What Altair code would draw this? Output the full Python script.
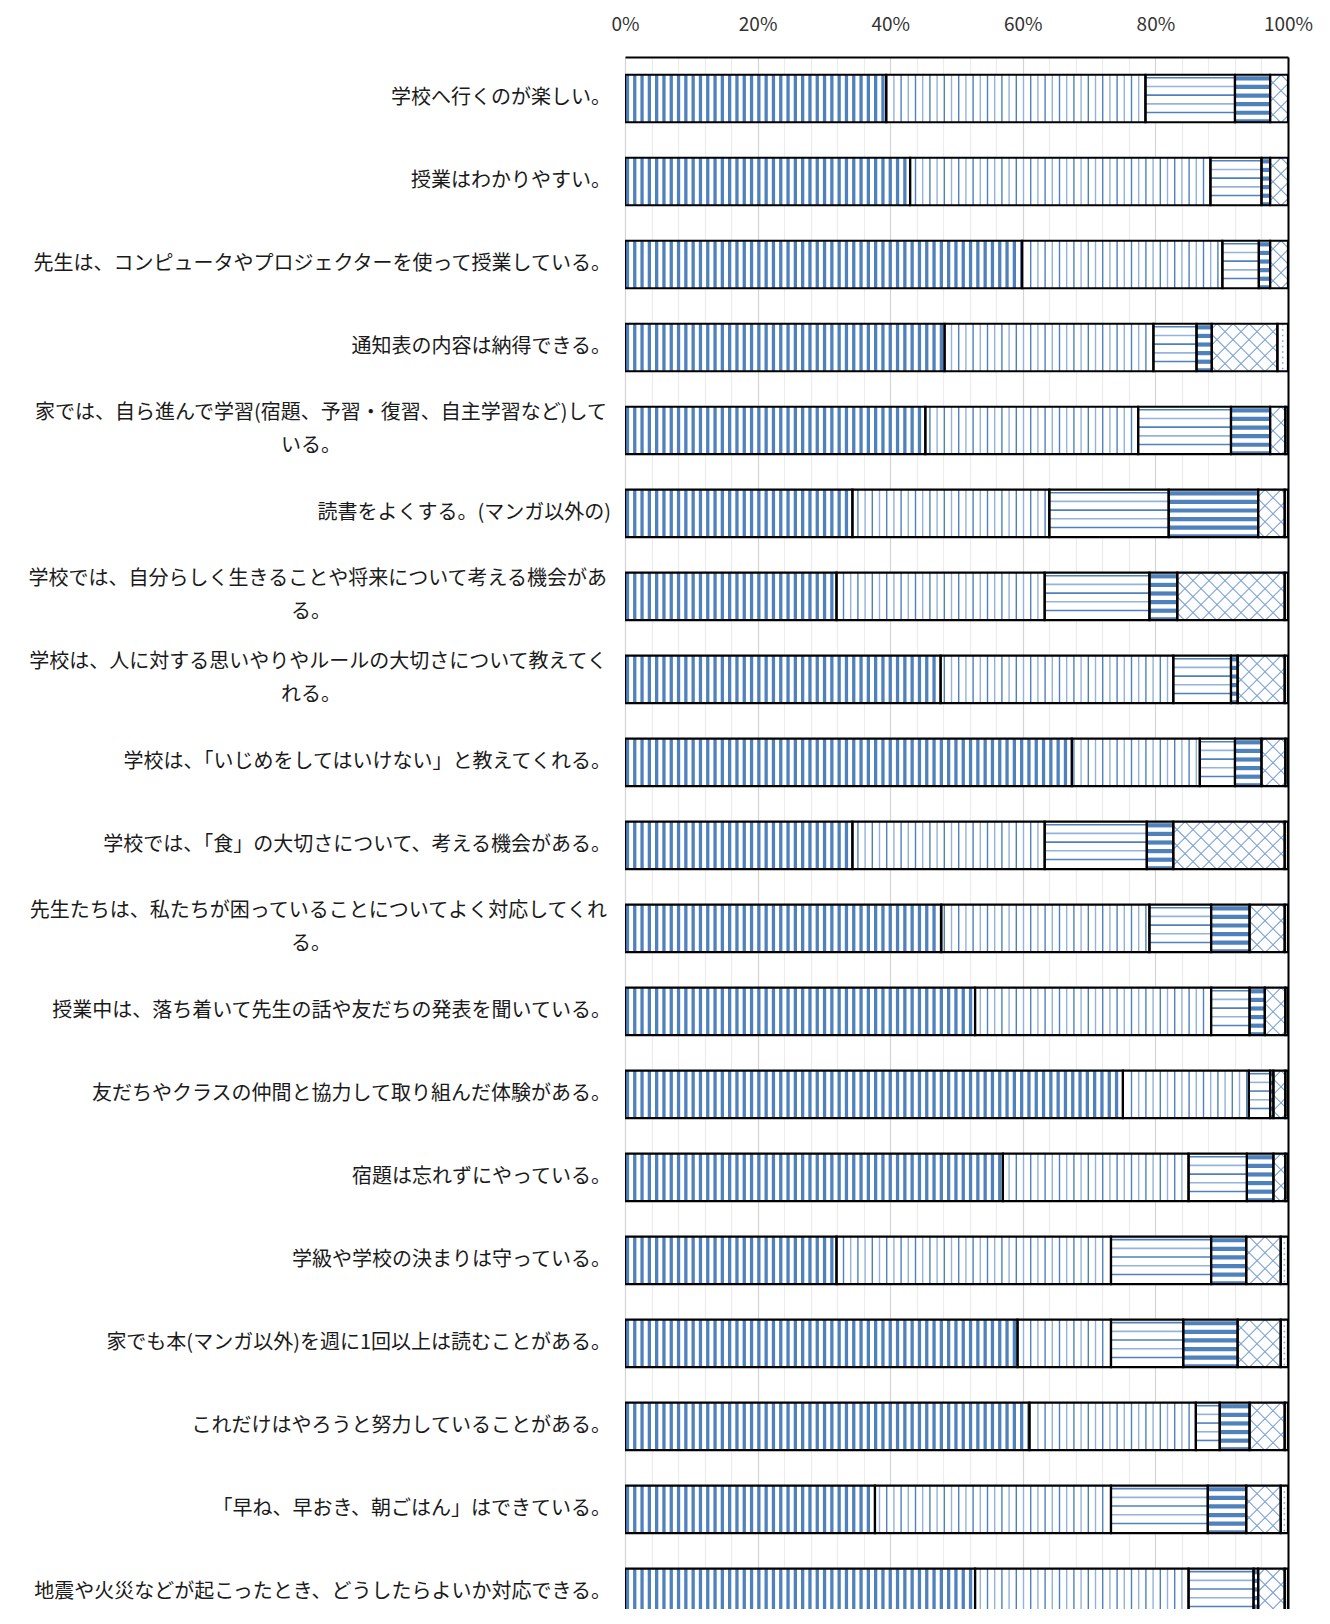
import altair as alt
import pandas as pd
import numpy as np

# ---------------- data ----------------
labels = [
    "学校へ行くのが楽しい。",
    "授業はわかりやすい。",
    "先生は、コンピュータやプロジェクターを使って授業している。",
    "通知表の内容は納得できる。",
    "家では、自ら進んで学習(宿題、予習・復習、自主学習など)して\nいる。",
    "読書をよくする。(マンガ以外の)",
    "学校では、自分らしく生きることや将来について考える機会があ\nる。",
    "学校は、人に対する思いやりやルールの大切さについて教えてく\nれる。",
    "学校は、「いじめをしてはいけない」と教えてくれる。",
    "学校では、「食」の大切さについて、考える機会がある。",
    "先生たちは、私たちが困っていることについてよく対応してくれ\nる。",
    "授業中は、落ち着いて先生の話や友だちの発表を聞いている。",
    "友だちやクラスの仲間と協力して取り組んだ体験がある。",
    "宿題は忘れずにやっている。",
    "学級や学校の決まりは守っている。",
    "家でも本(マンガ以外)を週に1回以上は読むことがある。",
    "これだけはやろうと努力していることがある。",
    "「早ね、早おき、朝ごはん」はできている。",
    "地震や火災などが起こったとき、どうしたらよいか対応できる。",
]

s1 = [39.4, 43.0, 59.9, 48.2, 45.3, 34.3, 31.9, 47.6, 67.4, 34.3, 47.7, 52.8, 75.1, 57.0, 31.9, 59.2, 61.0, 37.7, 52.8]
s2 = [39.1, 45.3, 30.2, 31.5, 32.1, 29.7, 31.4, 35.1, 19.3, 29.0, 31.4, 35.6, 19.0, 28.0, 41.4, 14.1, 25.1, 35.6, 32.2]
s3 = [13.5, 7.7, 5.5, 6.5, 14.0, 18.0, 15.8, 8.7, 5.3, 15.4, 9.3, 5.8, 3.2, 8.8, 15.1, 10.9, 3.6, 14.6, 9.8]
s4 = [5.3, 1.3, 1.7, 2.3, 5.9, 13.5, 4.2, 1.0, 4.0, 4.0, 5.8, 2.3, 0.5, 4.0, 5.3, 8.2, 4.5, 5.8, 0.7]
s5 = [2.7, 2.7, 2.7, 9.9, 2.3, 4.0, 16.2, 7.1, 3.6, 16.8, 5.3, 3.1, 1.8, 1.8, 5.2, 6.5, 5.3, 5.2, 4.0]
s6 = [0.0, 0.0, 0.0, 1.6, 0.4, 0.5, 0.5, 0.5, 0.4, 0.5, 0.5, 0.4, 0.4, 0.4, 1.1, 1.1, 0.5, 1.1, 0.5]
series = [s1, s2, s3, s4, s5, s6]

x_ticks = list(range(0, 101, 4))

# ---------------- layout / style ----------------
PLOT_W = 663
ROW_PX = 83.0
BAR_PX = 47.5
N = len(labels)
Y_MAX = 18.7
PLOT_H = int(round(Y_MAX * ROW_PX))
HALF = BAR_PX / 2 / ROW_PX
XU = 100.0 / PLOT_W      # x data units per pixel
YU = 1.0 / ROW_PX        # y data units per pixel

BLUE = "#4f81bd"
BLUE_L = "#93b3dd"
BLUE_M = "#7ea3d6"
FONT = "Noto Sans CJK JP"

# ---------------- segments ----------------
seg_rows = []
for i in range(N):
    edges = np.concatenate([[0.0], np.cumsum([s[i] for s in series])])
    for k in range(6):
        a, b = float(edges[k]), float(edges[k + 1])
        if b - a <= 0:
            continue
        seg_rows.append(dict(row=i, k=k, x=a, x2=b,
                             y=i + 0.5 - HALF, y2=i + 0.5 + HALF))
seg = pd.DataFrame(seg_rows)

# ---------------- textures (fill patterns) ----------------
rects, rules, dots = [], [], []
for r in seg_rows:
    a_px, b_px = r["x"] / XU, r["x2"] / XU
    top, bot = r["y"], r["y2"]
    k = r["k"]
    if k == 0:  # dense vertical stripes
        P, Wd = 7.3, 3.3
        for m in range(int(a_px // P) - 1, int(b_px // P) + 2):
            s = m * P + 0.8
            e = s + Wd
            s, e = max(s, a_px + 1), min(e, b_px - 1)
            if e - s > 0.4:
                rects.append(dict(x=s * XU, x2=e * XU, y=top, y2=bot, c=BLUE))
    elif k == 1:  # light vertical lines
        P = 7.2
        for m in range(int(a_px // P) - 1, int(b_px // P) + 2):
            xp = m * P + 2.5
            if a_px + 1.5 < xp < b_px - 1.5:
                rules.append(dict(x=xp * XU, x2=xp * XU, y=top, y2=bot,
                                  c=BLUE if m % 2 == 0 else BLUE_L, w=1.4))
    elif k == 2:  # light horizontal lines
        P = 8.7
        j = 0
        while 3 + j * P < BAR_PX - 1.5:
            yp = top + (3 + j * P) * YU
            rules.append(dict(x=a_px * XU, x2=b_px * XU, y=yp, y2=yp,
                              c=BLUE if j % 2 == 0 else BLUE_L, w=1.6))
            j += 1
    elif k == 3:  # dark horizontal bands
        P = 8.6
        j = 0
        while 1.5 + j * P < BAR_PX - 1:
            y0 = top + (1.5 + j * P) * YU
            y1 = min(top + (1.5 + j * P + 4.2) * YU, bot)
            rects.append(dict(x=r["x"], x2=r["x2"], y=y0, y2=y1, c=BLUE))
            j += 1
    elif k == 4:  # diagonal lattice
        C = 16.0
        H = BAR_PX
        for m in range(int((a_px - H) // C) - 1, int((b_px + H) // C) + 2):
            c = m * C
            lo = max(a_px, c)
            hi = min(b_px, H + c)
            if hi - lo > 0.5:
                rules.append(dict(x=lo * XU, x2=hi * XU,
                                  y=top + (lo - c) * YU, y2=top + (hi - c) * YU,
                                  c=BLUE_M, w=1.1))
            lo = max(a_px, c - H)
            hi = min(b_px, c)
            if hi - lo > 0.5:
                rules.append(dict(x=lo * XU, x2=hi * XU,
                                  y=top + (c - lo) * YU, y2=top + (c - hi) * YU,
                                  c=BLUE_M, w=1.1))
    elif k == 5:  # sparse dots
        if b_px - a_px >= 5:
            xm = (a_px + b_px) / 2 * XU
            dots.append(dict(x=xm, x2=xm, y=top, y2=bot))

rects = pd.DataFrame(rects)
rules = pd.DataFrame(rules)
dots = pd.DataFrame(dots)

# ---------------- labels ----------------
lab_rows = []
for i, t in enumerate(labels):
    parts = t.split("\n")
    lab_rows.append(dict(yc=i + 0.5, l1=parts[0],
                         l2=parts[1] if len(parts) > 1 else "",
                         two=len(parts) > 1))
labdf = pd.DataFrame(lab_rows)

# ---------------- scales / axes ----------------
xs = alt.Scale(domain=[0, 100], nice=False, zero=True)
ys = alt.Scale(domain=[0, Y_MAX], nice=False, reverse=True, zero=True)

x_axis = alt.Axis(
    orient="top", values=x_ticks, title=None, ticks=False,
    labelExpr="datum.value % 20 === 0 ? datum.value + '%' : ''",
    labelFont=FONT, labelFontSize=19, labelColor="#333333", labelPadding=23,
    domainColor="#000000", domainWidth=2, labelFlush=False,
    grid=True, gridWidth=1.2,
    gridColor={"condition": {"test": "datum.value % 20 === 0", "value": "#d4d4d4"},
               "value": "#ececec"},
)
y_axis = alt.Axis(orient="right", title=None, labels=False, ticks=False,
                  grid=False, domainColor="#000000", domainWidth=2)


def XE(f):
    return alt.X(f, scale=xs, axis=x_axis)


def YE(f):
    return alt.Y(f, scale=ys, axis=y_axis)


base = alt.Chart(seg).mark_rect(fill="white", strokeWidth=0, clip=True).encode(
    x=XE("x:Q"), x2="x2:Q", y=YE("y:Q"), y2="y2:Q",
)

tex_rect = alt.Chart(rects).mark_rect(strokeWidth=0, clip=True).encode(
    x=XE("x:Q"), x2="x2:Q", y=YE("y:Q"), y2="y2:Q",
    fill=alt.Fill("c:N", scale=None),
)

tex_rule = alt.Chart(rules).mark_rule(clip=True).encode(
    x=XE("x:Q"), x2="x2:Q", y=YE("y:Q"), y2="y2:Q",
    color=alt.Color("c:N", scale=None),
    strokeWidth=alt.StrokeWidth("w:Q", scale=None),
)

layers = [base, tex_rect, tex_rule]
if len(dots):
    tex_dots = alt.Chart(dots).mark_rule(clip=True, color=BLUE_M, strokeWidth=1.6,
                                         strokeDash=[1.5, 4]).encode(
        x=XE("x:Q"), x2="x2:Q", y=YE("y:Q"), y2="y2:Q",
    )
    layers.append(tex_dots)

outline = alt.Chart(seg).mark_rect(fillOpacity=0, stroke="#000000", strokeWidth=2.2,
                                   clip=True).encode(
    x=XE("x:Q"), x2="x2:Q", y=YE("y:Q"), y2="y2:Q",
)
layers.append(outline)

txt_common = dict(font=FONT, fontSize=20, color="#1a1a1a", baseline="middle")

t_single = alt.Chart(labdf).transform_filter("!datum.two").mark_text(
    align="right", **txt_common).encode(
    x=alt.value(-14), y=YE("yc:Q"), text="l1:N",
)
t_first = alt.Chart(labdf).transform_filter("datum.two").mark_text(
    align="right", dy=-17, **txt_common).encode(
    x=alt.value(-18), y=YE("yc:Q"), text="l1:N",
)
t_second = alt.Chart(labdf).transform_filter("datum.two").mark_text(
    align="center", dy=16, **txt_common).encode(
    x=alt.value(-314), y=YE("yc:Q"), text="l2:N",
)
layers += [t_single, t_first, t_second]

chart = alt.layer(*layers).properties(
    width=PLOT_W,
    height=PLOT_H,
    padding={"left": 617, "top": 49, "right": 30, "bottom": 0},
    autosize=alt.AutoSizeParams(type="none"),
    background="white",
).configure_view(strokeWidth=0)

chart.save("out.html", embed_options={"renderer": "svg", "actions": False})
